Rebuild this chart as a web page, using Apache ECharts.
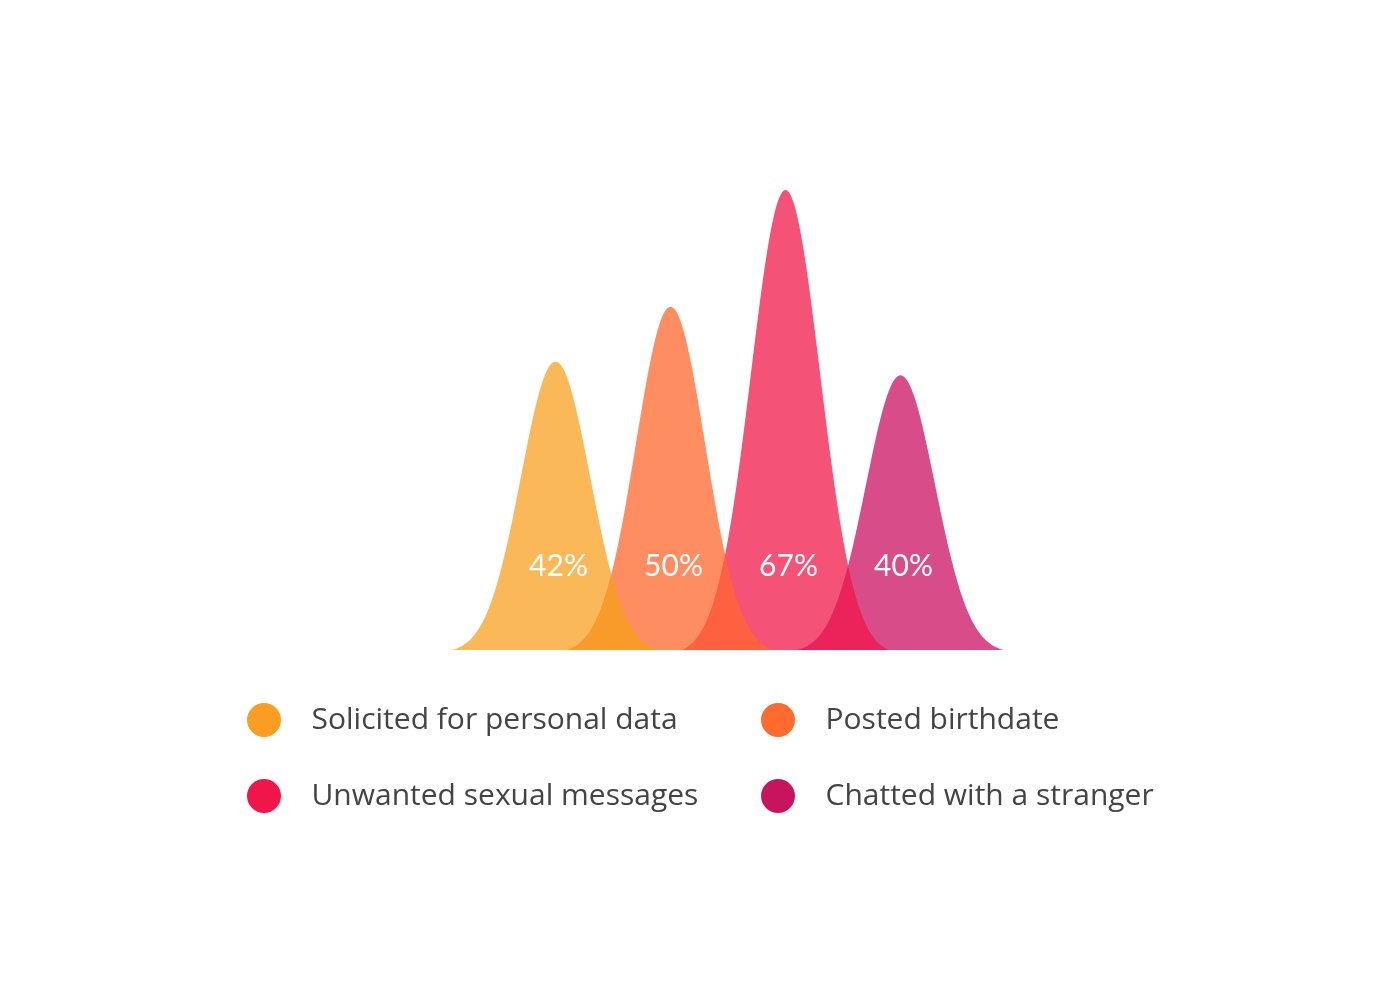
<!DOCTYPE html>
<html>
<head>
<meta charset="utf-8">
<script src="https://cdn.jsdelivr.net/npm/echarts@6/dist/echarts.min.js"></script>
<style>html,body{margin:0;padding:0;background:#fff}#c{width:1400px;height:1000px}</style>
</head>
<body>
<div id="c"></div>
<script>
// ---- data ----
var categories = ['Solicited for personal data', 'Posted birthdate', 'Unwanted sexual messages', 'Chatted with a stranger'];
var values = [42, 50, 67, 40];
var labels = ['42%', '50%', '67%', '40%'];
var colors = ['#F99E22', '#FF6A2E', '#F0164A', '#C8145F'];
var lightColors = ['#FBB858', '#FF8D62', '#F45276', '#D84C8A'];
var overlapColors = ['#F99B2B', '#FF6140', '#EC235A'];

// ---- shape helpers (bell profile of one mark) ----
var HALF = 0.896;   // half base width, in category bands
var SIG = 0.335;    // bell sigma, relative to half base width
var E1 = Math.exp(-1 / (2 * SIG * SIG));
function bell(u) {
  if (u <= -1 || u >= 1) return 0;
  return (Math.exp(-u * u / (2 * SIG * SIG)) - E1) / (1 - E1);
}
var N = 120;

function mountainItem(params, api) {
  var idx = api.value(0), val = api.value(1);
  var top = api.coord([idx, val]);
  var base = api.coord([idx, 0]);
  var band = api.size([1, 0])[0];
  var H = band * HALF, h = base[1] - top[1];
  var pts = [];
  for (var k = 0; k <= N; k++) {
    var u = -1 + 2 * k / N;
    pts.push([base[0] + u * H, base[1] - h * bell(u)]);
  }
  return { type: 'polygon', shape: { points: pts }, style: { fill: lightColors[idx] } };
}

function overlapItem(params, api) {
  var i = api.value(0), v1 = api.value(1), v2 = api.value(2);
  var b1 = api.coord([i, 0]), t1 = api.coord([i, v1]);
  var b2 = api.coord([i + 1, 0]), t2 = api.coord([i + 1, v2]);
  var band = api.size([1, 0])[0];
  var H = band * HALF;
  var x0 = b2[0] - H, x1 = b1[0] + H;
  var h1 = b1[1] - t1[1], h2 = b2[1] - t2[1];
  var pts = [];
  for (var k = 0; k <= N; k++) {
    var x = x0 + (x1 - x0) * k / N;
    var y1 = h1 * bell((x - b1[0]) / H);
    var y2 = h2 * bell((x - b2[0]) / H);
    pts.push([x, b1[1] - Math.min(y1, y2)]);
  }
  return { type: 'polygon', shape: { points: pts }, style: { fill: overlapColors[i] } };
}

function labelItem(params, api) {
  var idx = api.value(0);
  var base = api.coord([idx, 0]);
  return {
    type: 'text', x: base[0] + 3, y: base[1] - 84,
    style: { text: labels[idx], fill: '#ffffff', font: '30px Lato', align: 'center', verticalAlign: 'middle' }
  };
}

var series = categories.map(function (name, i) {
  return {
    name: name, type: 'custom', z: 2,
    itemStyle: { color: colors[i] },
    renderItem: mountainItem,
    data: [[i, values[i]]]
  };
});
series.push({
  name: 'overlap', type: 'custom', z: 3, silent: true,
  renderItem: overlapItem,
  data: values.slice(0, -1).map(function (v, i) { return [i, v, values[i + 1]]; })
});
series.push({
  name: 'labels', type: 'custom', z: 4, silent: true,
  renderItem: labelItem,
  data: values.map(function (v, i) { return [i, v]; })
});

var legendBase = {
  orient: 'vertical', icon: 'circle', padding: 0,
  itemWidth: 85, itemHeight: 34, itemGap: 42,
  selectedMode: false,
  textStyle: { fontFamily: 'Open Sans', fontSize: 30, color: '#444444', lineHeight: 34 }
};

var chart = echarts.init(document.getElementById('c'), null, { renderer: 'canvas' });
chart.setOption({
  backgroundColor: '#ffffff',
  animation: false,
  grid: { left: 498, right: 442, top: 190, bottom: 350 },
  xAxis: { type: 'category', data: categories, show: false },
  yAxis: { type: 'value', min: 0, max: 67, show: false, splitLine: { show: false } },
  legend: [
    Object.assign({}, legendBase, { left: 247, top: 703, data: [categories[0], categories[2]] }),
    Object.assign({}, legendBase, { left: 761, top: 703, data: [categories[1], categories[3]] })
  ],
  series: series
});
</script>
</body>
</html>
